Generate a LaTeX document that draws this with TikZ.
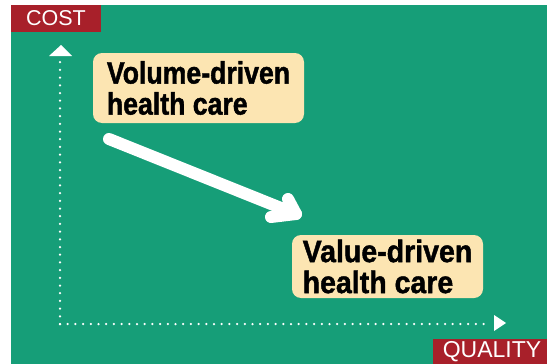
\documentclass[tikz,border=0pt]{standalone}
\usepackage{fontspec}
\setmainfont{Liberation Sans}
\newfontfamily\boxfont[FakeStretch=0.86,FakeBold=1.4]{Liberation Sans Bold}
\newfontfamily\boxfontwide[FakeStretch=0.92,FakeBold=1.4]{Liberation Sans Bold}
\definecolor{bggreen}{RGB}{22,158,120}
\definecolor{boxbeige}{RGB}{252,229,178}
\definecolor{labred}{RGB}{168,32,42}
\tikzset{
  careBox/.style={draw=none,fill=boxbeige,rounded corners=9pt,align=left,
    text=black,inner sep=0pt},
  axisLabel/.style={fill=labred,text=white,inner sep=0pt},
  axisLine/.style={draw=white,line width=2.5pt,line cap=round,dash pattern=on 0pt off 7.7pt},
  bigArrow/.style={draw=white,line width=12pt,line cap=round,line join=round}
}
\begin{document}
\begin{tikzpicture}[x=1pt,y=-1pt]
\useasboundingbox (0,0) rectangle (547,364);
\fill[bggreen] (11,5) rectangle (547,364);
% axis labels
\node[axisLabel,minimum width=90pt,minimum height=27pt,font=\fontsize{21.5}{21.5}\selectfont] (cost) at (56,18.5) {COST};
\node[axisLabel,minimum width=114pt,minimum height=25pt,font=\fontsize{23}{23}\selectfont] (quality) at (490,351.5) {\hspace{4pt}QUALITY};
% axes
\coordinate (origin) at (60,324);
\coordinate (ytop) at (60,58);
\coordinate (xend) at (490,324);
\draw[axisLine] (origin) -- (ytop);
\draw[axisLine] (origin) -- (xend);
\fill[white] (49,56) -- (61,45) -- (72,56) -- cycle;
\fill[white] (494,315) -- (506,323) -- (494,331) -- cycle;
% boxes
\node[careBox,minimum width=211pt,minimum height=70pt,font=\boxfont\fontsize{31}{31}\selectfont] (volume) at (198.5,88) {Volume-driven\\health care};
\node[careBox,minimum width=191pt,minimum height=63pt,font=\boxfontwide\fontsize{31}{31}\selectfont] (value) at (387.5,266.5) {Value-driven\\health care};
% arrow
\coordinate (astart) at (109,139);
\coordinate (atip) at (296,214);
\coordinate (aup) at (288,199);
\coordinate (alow) at (271,217);
\draw[bigArrow] (astart) -- (atip);
\draw[bigArrow] (aup) -- (atip) -- (alow);
\end{tikzpicture}
\end{document}
